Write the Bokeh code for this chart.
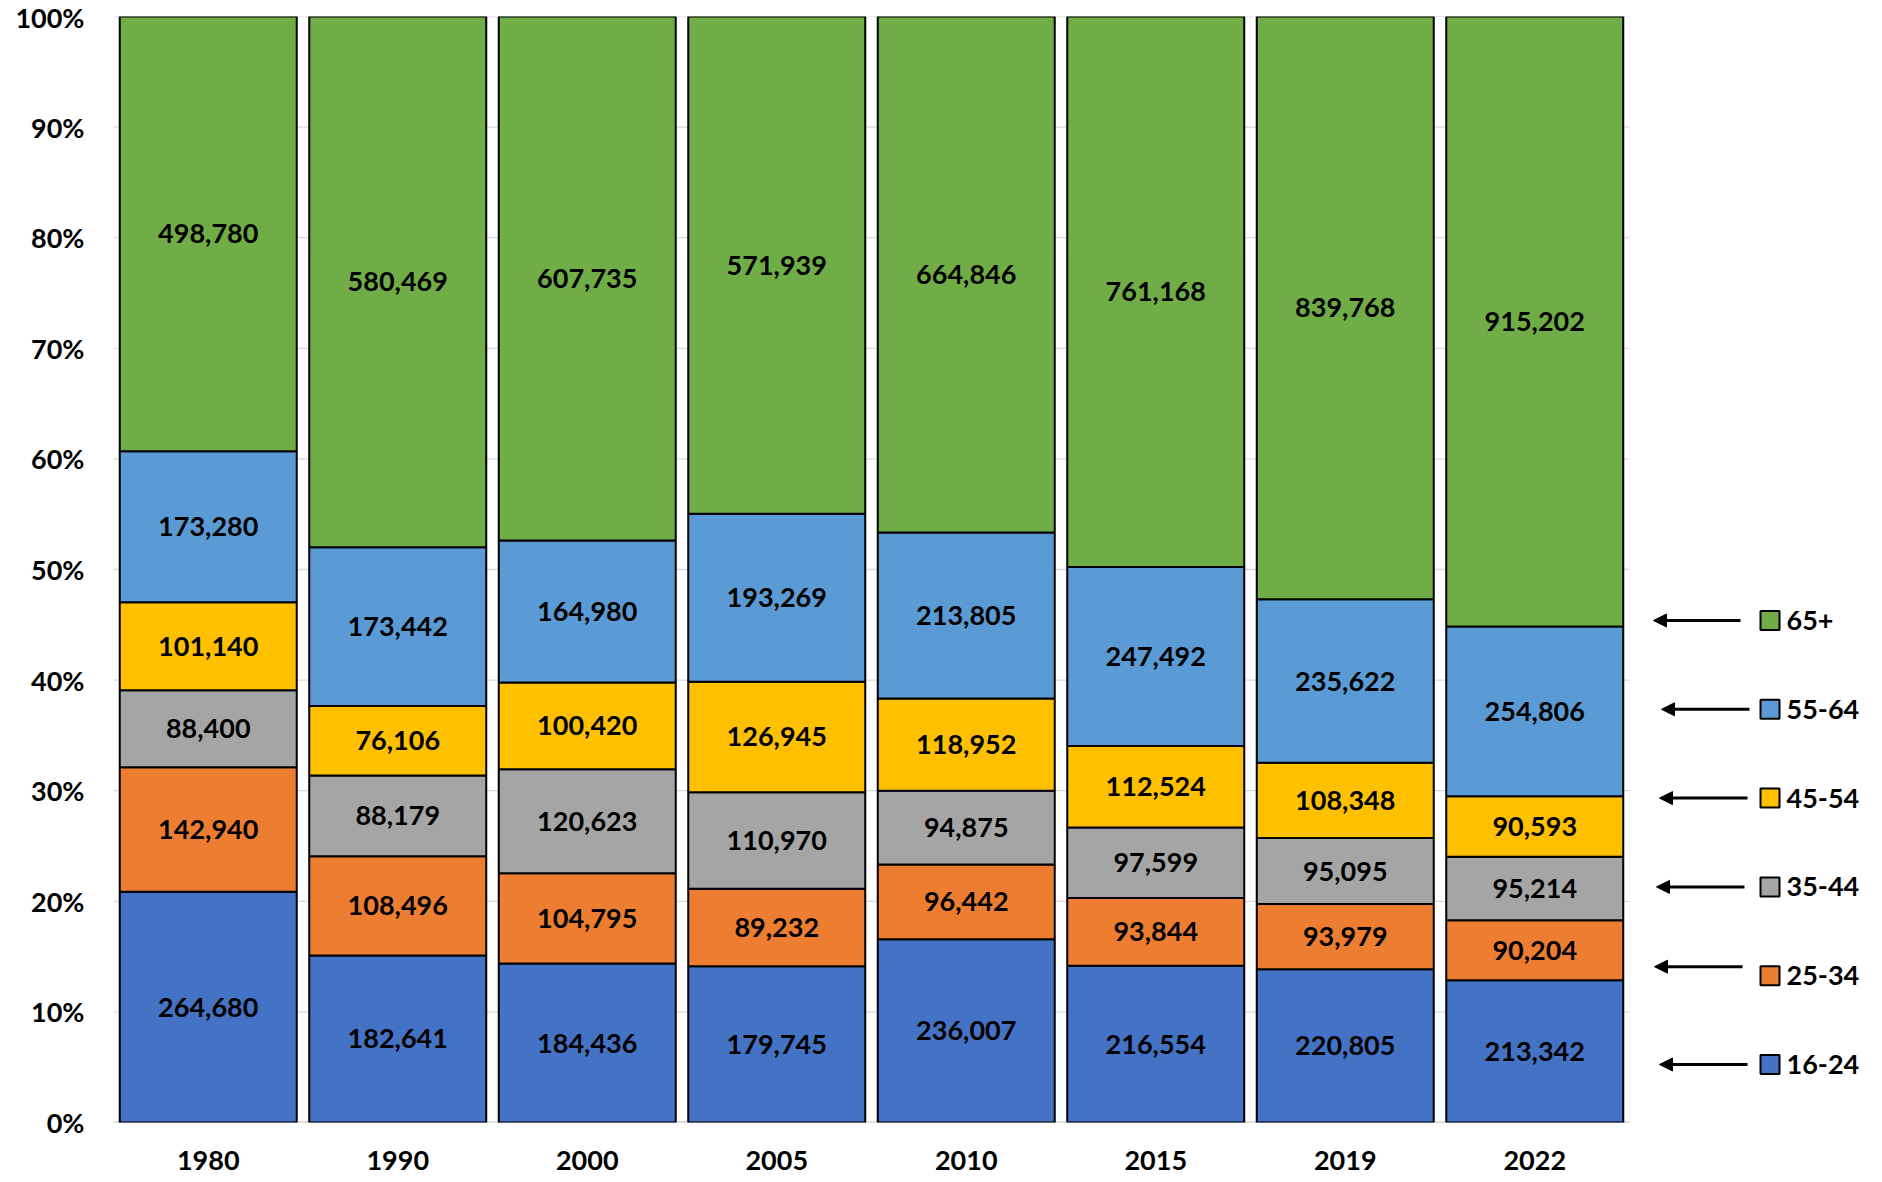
import numpy as np
from bokeh.plotting import figure
from bokeh.models import (Range1d, FixedTicker, NumeralTickFormatter, Arrow,
                          NormalHead, ColumnDataSource)
from bokeh.core.properties import value
from bokeh.embed import file_html
from bokeh.resources import INLINE

# ---------------- data ----------------
years = ["1980", "1990", "2000", "2005", "2010", "2015", "2019", "2022"]
age_groups = ["16-24", "25-34", "35-44", "45-54", "55-64", "65+"]
g16_24 = [264680, 182641, 184436, 179745, 236007, 216554, 220805, 213342]
g25_34 = [142940, 108496, 104795, 89232, 96442, 93844, 93979, 90204]
g35_44 = [88400, 88179, 120623, 110970, 94875, 97599, 95095, 95214]
g45_54 = [101140, 76106, 100420, 126945, 118952, 112524, 108348, 90593]
g55_64 = [173280, 173442, 164980, 193269, 213805, 247492, 235622, 254806]
g65_plus = [498780, 580469, 607735, 571939, 664846, 761168, 839768, 915202]
group_values = [g16_24, g25_34, g35_44, g45_54, g55_64, g65_plus]
colors = ["#4472C4", "#ED7D31", "#A5A5A5", "#FFC000", "#5B9BD5", "#70AD47"]
y_ticks = [0.0, 0.1, 0.2, 0.3, 0.4, 0.5, 0.6, 0.7, 0.8, 0.9, 1.0]

# ---------------- layout ----------------
W, H = 1882, 1182
BL, BT = 113, 16
frame_h = 1106
BB = H - BT - frame_h
frame_w = W - BL
px_per_unit = 189.5
x_start = -0.5
x_end = x_start + frame_w / px_per_unit
FONT = value("Lato")
FS = "27px"

def xd(page_x):
    return (page_x - BL) / px_per_unit + x_start

page_bottom = BT + frame_h
def yd(page_y):
    return (page_bottom - page_y) / frame_h

# ---------------- shares ----------------
vals = np.array(group_values, dtype=float)
totals = vals.sum(axis=0)
shares = vals / totals
xs = list(range(len(years)))
data = {"x": xs}
for g, s in zip(age_groups, shares):
    data[g] = list(s)
src = ColumnDataSource(data)

p = figure(width=W, height=H, output_backend="svg", toolbar_location=None,
           x_range=Range1d(x_start, x_end), y_range=Range1d(0, 1),
           min_border_left=BL, min_border_top=BT, min_border_bottom=BB,
           min_border_right=0)
p.outline_line_color = None
p.background_fill_color = "white"
p.border_fill_color = "white"
p.xgrid.visible = False
p.ygrid.visible = False

# gridlines (only across the bar area)
n = len(years)
gl = [t for t in y_ticks if t > 0]
p.segment(x0=[x_start] * len(gl), x1=[x_start + n] * len(gl), y0=gl, y1=gl,
          line_color="#d9d9d9", line_width=1.3)
p.segment(x0=[x_start], x1=[x_start + n], y0=[0], y1=[0],
          line_color="#bfbfbf", line_width=2)

p.vbar_stack(age_groups, x="x", width=0.934, source=src,
             fill_color=colors, line_color="black", line_width=2)

# data labels
lx, ly, lt = [], [], []
bottom = np.zeros(n)
for gi in range(len(age_groups)):
    for i in range(n):
        lx.append(xs[i])
        ly.append(bottom[i] + shares[gi][i] / 2)
        lt.append(f"{int(vals[gi][i]):,}")
    bottom += shares[gi]
p.text(x=lx, y=ly, text=lt, text_align="center", text_baseline="middle",
       text_font=FONT, text_font_style="bold", text_font_size=FS,
       text_color="black")

# axes
p.yaxis.ticker = FixedTicker(ticks=y_ticks)
p.yaxis.formatter = NumeralTickFormatter(format="0%")
p.xaxis.ticker = FixedTicker(ticks=xs)
p.xaxis.major_label_overrides = {i: y for i, y in zip(xs, years)}
for ax in (p.xaxis[0], p.yaxis[0]):
    ax.axis_line_color = None
    ax.major_tick_line_color = None
    ax.minor_tick_line_color = None
    ax.major_tick_out = 0
    ax.major_tick_in = 0
    ax.major_label_text_font = "Lato"
    ax.major_label_text_font_style = "bold"
    ax.major_label_text_font_size = FS
    ax.major_label_text_color = "black"
p.yaxis.major_label_standoff = 29
p.xaxis.major_label_standoff = 28

# legend (top to bottom: 65+ ... 16-24) with hand-drawn arrows
leg_top, leg_step = 620, 88.8
arrow_tips = [1653, 1661, 1659, 1656, 1654, 1659]
arrow_tails = [1740, 1749, 1747, 1744, 1742, 1747]
arrow_dy = [0, 0, 0, 0, -9, 0]
order = list(reversed(range(len(age_groups))))
sq_y, names, cols = [], [], []
for k, gi in enumerate(order):
    py = leg_top + k * leg_step
    sq_y.append(yd(py))
    names.append(age_groups[gi])
    cols.append(colors[gi])
    ay = yd(py + arrow_dy[k])
    p.add_layout(Arrow(end=NormalHead(size=13, fill_color="black",
                                      line_color="black", line_width=1),
                       x_start=xd(arrow_tails[k]), y_start=ay,
                       x_end=xd(arrow_tips[k]), y_end=ay,
                       line_color="black", line_width=3))
p.scatter(x=[xd(1769.5)] * len(names), y=sq_y, marker="square", size=19,
          fill_color=cols, line_color="black", line_width=2)
p.text(x=[xd(1786)] * len(names), y=sq_y, text=names, text_align="left",
       text_baseline="middle", text_font=FONT, text_font_style="bold",
       text_font_size=FS, text_color="black")

open("out.html", "w").write(file_html(p, INLINE))
